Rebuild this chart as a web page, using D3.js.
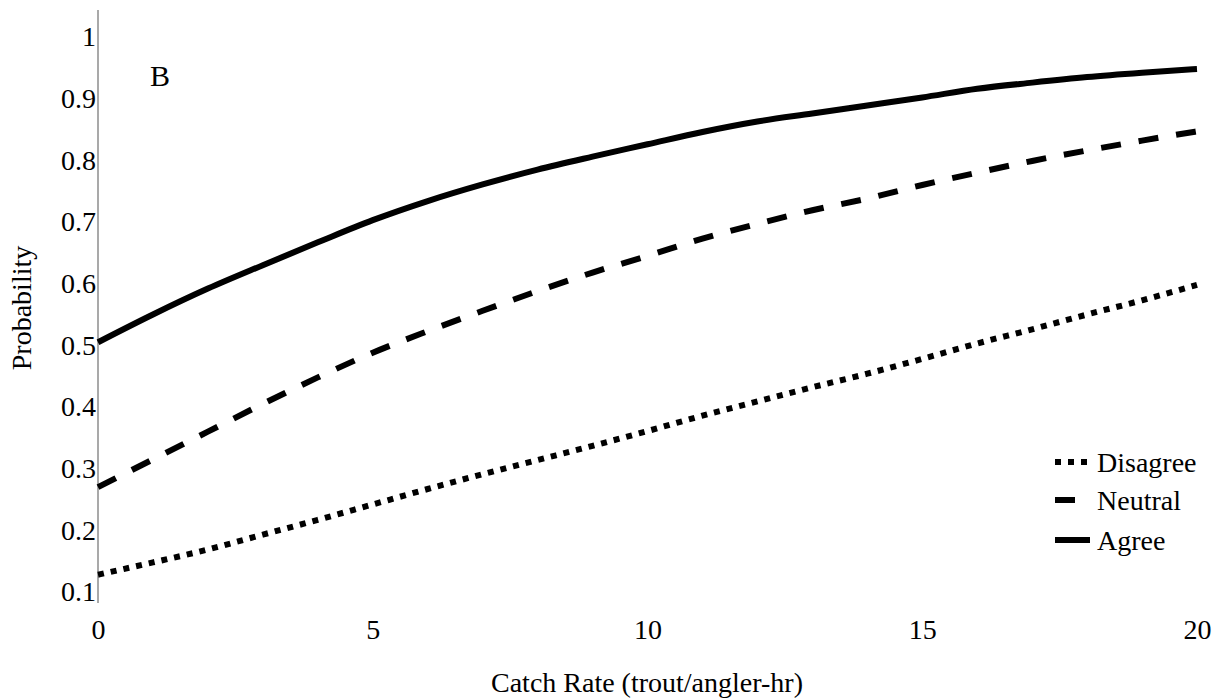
<!DOCTYPE html>
<html>
<head>
<meta charset="utf-8">
<script src="https://cdn.jsdelivr.net/npm/d3@7"></script>
<style>
  body { margin: 0; background: #fff; }
  svg text { font-family: "Liberation Serif", "DejaVu Serif", serif; fill: #000; }
</style>
</head>
<body>
<div id="draw_svg"></div>
<script>
// catch rate values (x) and probabilities
const catchRate = [0, 1, 2, 3, 4, 5, 6, 7, 8, 9, 10, 11, 12, 13, 14, 15, 16, 17, 18, 19, 20];
const disagree = [0.128, 0.148, 0.169, 0.193, 0.217, 0.242, 0.267, 0.291, 0.314, 0.337, 0.361, 0.386, 0.409, 0.432, 0.454, 0.478, 0.503, 0.526, 0.55, 0.573, 0.598];
const neutral = [0.27, 0.315, 0.36, 0.405, 0.448, 0.488, 0.523, 0.556, 0.588, 0.618, 0.645, 0.673, 0.697, 0.719, 0.738, 0.76, 0.78, 0.799, 0.816, 0.832, 0.847];
const agree = [0.505, 0.55, 0.592, 0.63, 0.667, 0.703, 0.734, 0.761, 0.785, 0.806, 0.826, 0.846, 0.863, 0.876, 0.889, 0.902, 0.916, 0.926, 0.935, 0.942, 0.948];
const xTicks = [0, 5, 10, 15, 20];
const yTicks = [0.1, 0.2, 0.3, 0.4, 0.5, 0.6, 0.7, 0.8, 0.9, 1];
const seriesNames = ['Disagree', 'Neutral', 'Agree'];

/**
 * 线条样式
 */
const dashFor = {
    Disagree: '6,7',
    Neutral: '20,18',
    Agree: null
};

pageInit = () => {
    const W = 1219, H = 700;
    const svg = d3.select('#draw_svg')
        .append('svg')
        .attr('width', W)
        .attr('height', H);

    const x = d3.scaleLinear().domain([0, 20]).range([98, 1197]);
    const y = d3.scaleLinear().domain([0.1, 1]).range([592, 37]);

    // y axis line (grey, runs a bit past the ticks)
    svg.append('line')
        .attr('x1', 98).attr('x2', 98)
        .attr('y1', 10).attr('y2', 603)
        .attr('stroke', '#8c8c8c')
        .attr('stroke-width', 1.5);

    const yAxis = svg.append('g')
        .attr('transform', 'translate(98,0)')
        .call(d3.axisLeft(y).tickValues(yTicks).tickSize(0).tickPadding(2)
            .tickFormat(d => String(+d.toFixed(1))));
    yAxis.select('.domain').remove();
    yAxis.selectAll('text').style('font-size', '28px');

    const xAxis = svg.append('g')
        .attr('transform', 'translate(0,616)')
        .call(d3.axisBottom(x).tickValues(xTicks).tickSize(0).tickPadding(3));
    xAxis.select('.domain').remove();
    xAxis.selectAll('text').style('font-size', '28px');

    // axis titles
    svg.append('text')
        .attr('x', 647).attr('y', 692)
        .attr('text-anchor', 'middle')
        .style('font-size', '28px')
        .text('Catch Rate (trout/angler-hr)');

    svg.append('text')
        .attr('transform', 'translate(31,308) rotate(-90)')
        .attr('text-anchor', 'middle')
        .style('font-size', '28px')
        .text('Probability');

    svg.append('text')
        .attr('x', 150).attr('y', 86)
        .style('font-size', '30px')
        .text('B');

    const line = d3.line()
        .x((d, i) => x(catchRate[i]))
        .y(d => y(d))
        .curve(d3.curveMonotoneX);

    const seriesData = { Disagree: disagree, Neutral: neutral, Agree: agree };

    seriesNames.forEach(name => {
        svg.append('path')
            .datum(seriesData[name])
            .attr('d', line)
            .attr('fill', 'none')
            .attr('stroke', '#000')
            .attr('stroke-width', 6)
            .attr('stroke-dasharray', dashFor[name]);
    });

    // legend
    const legendY = [462, 500, 540];
    const sampleEnd = { Disagree: 1090, Neutral: 1076, Agree: 1090 };
    seriesNames.forEach((name, i) => {
        svg.append('line')
            .attr('x1', 1055).attr('x2', sampleEnd[name])
            .attr('y1', legendY[i]).attr('y2', legendY[i])
            .attr('stroke', '#000')
            .attr('stroke-width', 6)
            .attr('stroke-dasharray', dashFor[name]);
        svg.append('text')
            .attr('x', 1097).attr('y', legendY[i] + 10)
            .style('font-size', '28px')
            .text(name);
    });
}

window.onload = () => {
    pageInit();
}
</script>
</body>
</html>
